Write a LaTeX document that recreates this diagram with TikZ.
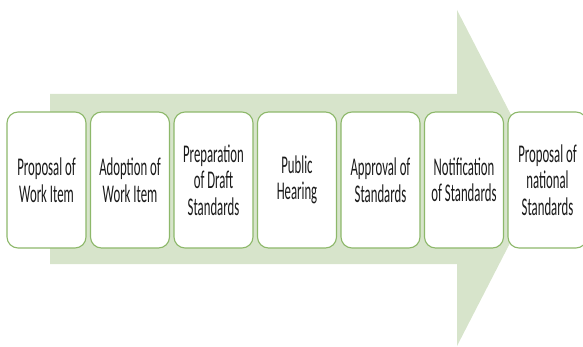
\documentclass[tikz,border=0pt]{standalone}
\usepackage{fontspec}
\newfontfamily\boxfont[FakeStretch=0.50]{Carlito}
\definecolor{arrowfill}{HTML}{D7E4CB}
\definecolor{boxline}{HTML}{8DB86A}
\definecolor{txt}{HTML}{1A1A1A}
\begin{document}
\begin{tikzpicture}[x=1pt,y=-1pt,
  stepbox/.style={draw=boxline, line width=1.1pt, fill=white, rounded corners=11pt,
    minimum width=79pt, minimum height=136pt, inner sep=0pt, align=center,
    text=txt, font=\boxfont\fontsize{25.5}{26.5}\selectfont}]
\useasboundingbox (0,0) rectangle (583,347);
\fill[arrowfill] (50,94) -- (457,94) -- (457,10) -- (543.5,178) -- (457,346) -- (457,264) -- (50,264) -- cycle;
\node[stepbox] (s1) at (46.5,180) {Proposal of\\Work Item};
\node[stepbox] (s2) at (130,180) {Adoption of\\Work Item};
\node[stepbox] (s3) at (213.5,180) {Preparation\\of Draft\\Standards};
\node[stepbox] (s4) at (297,180) {Public\\Hearing};
\node[stepbox] (s5) at (380.5,180) {Approval of\\Standards};
\node[stepbox] (s6) at (464,180) {Notification\\of Standards};
\node[stepbox] (s7) at (547.5,180) {Proposal of\\national\\Standards};
\end{tikzpicture}
\end{document}
